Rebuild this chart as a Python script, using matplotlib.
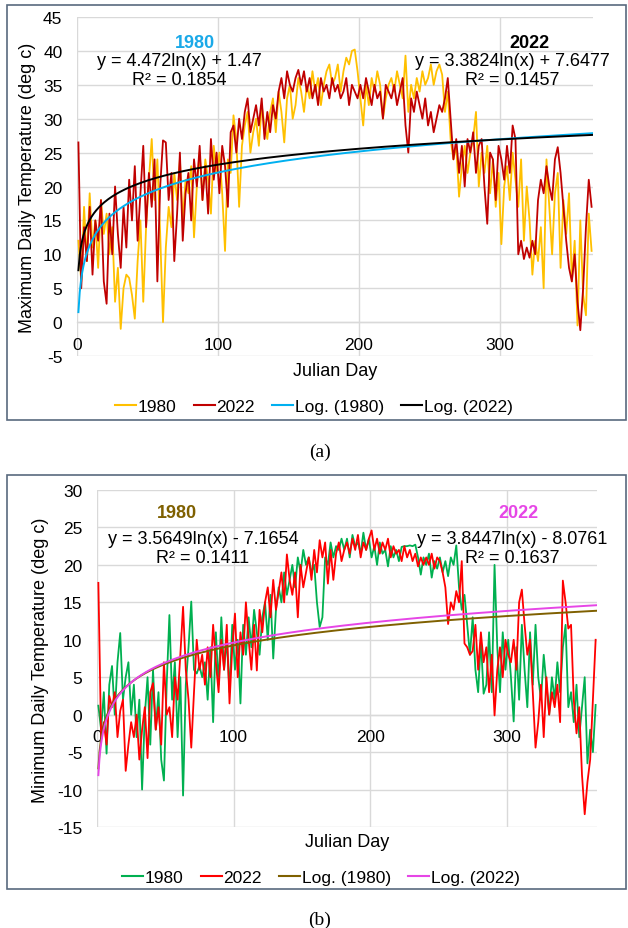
import numpy as np
import matplotlib
matplotlib.use("Agg")
import matplotlib.pyplot as plt
from matplotlib.lines import Line2D
from matplotlib.patches import Rectangle

# ---------------- data ----------------
days = np.arange(1, 366, 2)

max_1980 = [
    12, 6, 17, 9, 19, 11, 15, 8, 18, 13,
    16, 10, 14, 3, 8, -1, 5, 7, 6.5, 4,
    0.5, 9, 15, 3, 14, 21, 27, 18, 24, 13,
    0, 11, 17, 14, 22, 18, 24, 15, 21, 19,
    23, 12.5, 20, 25, 18, 24, 21, 16, 26, 22,
    25, 19, 10.5, 24, 22, 30.5, 27, 17, 26, 29,
    31, 25, 28, 30, 26, 32, 29, 27, 31, 33,
    28, 34, 31, 26.5, 33, 35, 30, 32, 36, 34,
    31, 35, 33, 37, 34, 36, 32, 35, 37, 38,
    35, 36, 38, 34, 37, 39, 38, 40, 40.2, 37,
    33, 29, 35, 32, 36, 34, 37, 35, 30, 33,
    35, 36, 34, 37, 35, 33, 39.3, 31, 35, 33,
    36, 34, 37, 35, 36, 38, 35, 37, 38, 36.5,
    31, 34, 27, 24, 26, 18.5, 23, 26, 22, 25,
    27, 31, 20, 25, 22, 26, 19, 24, 17, 22,
    11.5, 20, 23, 18, 25, 21, 17, 24, 12, 20,
    15, 7, 12, 9, 14, 5, 24, 17, 10, 19,
    22, 8, 18, 13, 19, 6, 12, -0.5, 15, 4,
    1, 16, 10.5,
]

max_2022 = [
    26.5, 5, 14, 9, 17, 7, 15, 12, 18, 6,
    2.7, 16, 10, 20, 13, 8, 17, 11, 21, 15,
    23, 12, 19, 26, 14, 22, 17, 24, 6, 20,
    26.8, 26.5, 18, 22, 9, 16, 25, 12, 19, 22,
    15, 24, 20, 26, 18, 23, 16, 27, 21, 25,
    19, 26, 23, 17, 28, 29, 25, 30, 27, 31,
    33, 28, 30, 32, 29, 33, 27, 31, 28, 32,
    30, 34, 36, 33, 37, 35, 34, 36, 37.2, 35,
    37, 34, 36, 33, 35, 32, 36, 34, 35, 33,
    36, 34, 35, 33, 34, 36, 32, 35, 34, 33,
    35, 33, 36, 34, 32, 35, 33, 34, 30, 35,
    34, 33, 35, 32, 34, 36, 29, 25, 33, 31,
    34, 32, 30, 33, 29, 31, 28, 30, 32, 31,
    33, 36, 30, 24, 27, 22, 26, 20, 27, 25,
    28, 22, 26, 27, 20, 14.5, 25, 24, 18, 26,
    24, 21, 26, 22, 29, 27, 10, 12, 9.3, 11,
    9.5, 12, 10, 18, 21, 19, 23, 20, 18, 24,
    25.8, 22, 17, 12, 8, 6, 10, 3, -1.2, 5,
    14, 21, 17,
]

min_1980 = [
    1.2, -2, 3, -5.2, 4, 6.5, 0, 7, 10.9, 2,
    5, 7, 0, 4, -3, 2, -10, 0, 5, -4,
    6, -2, 3, -6, -8.8, 4, 13.3, 2, 7, -3,
    5, -10.8, 4, 9, 15.1, 6, 5.5, 6.5, 5, 7,
    2, 9, -1, 11, 4, 13, 6, 10, 3, 12,
    6, 10, 1.5, 12, 8, 13, 9, 14, 11, 8,
    13, 15, 10, 16, 7.5, 14, 17, 15, 19, 16,
    18, 20, 17, 21, 19, 22, 20, 21, 19, 20,
    15, 11.7, 13, 21, 20, 23, 21, 22.5, 22, 23.5,
    22, 23.5, 21, 24, 22.5, 23, 21.5, 24.3, 22, 23.5,
    21, 22.5, 20, 23, 21.5, 22, 19.8, 22.5, 21, 22,
    20.5, 22.4, 22.5, 22.5, 22.6, 22.5, 22.7, 21, 18.7, 21,
    20, 21.5, 18.3, 20.5, 19.5, 21, 19, 20.5, 18.5, 21,
    20, 22.6, 17, 14, 16, 12, 8, 13, 6, 3,
    10, 2.8, 4, 11, 3, 20, 9, 3, 11, 6,
    10, 5, -0.9, 9, 2, 12, 6, 1, 11, 4,
    12, 5, 2, 8, 4, 0, 5, 2, 7, 3,
    9, 12, 1, 3, -1, 4, -3, 1, 5, -6.5,
    -2, -5, 1.3,
]

min_2022 = [
    17.6, -3, -1, -4, 2.5, 1, 3, -3, 0.5, 2,
    -7.5, -4, -1, -3, 0, -6, -2, 1, -5.8, 3,
    4.2, -2, 1, -4, 7, 0, 1, -3, 5, 2,
    8, 14.4, 6, 2, -4.4, 3, 10, 6, 8, 4,
    9, 5, 12, 7, 3, 10, 6, 12, 1.5, 9,
    13.5, 5, 11, 8, 15, 10, 6, 12, 5.9, 14,
    11, 15, 17, 13, 18, 14, 16.5, 19, 15, 21.4,
    18, 16, 19, 13, 20, 17, 19, 21, 18, 22,
    19, 23.3, 21, 23, 17.5, 22, 18, 21.5, 23, 20.5,
    22, 23, 21.5, 23.5, 22, 24, 21, 23, 22, 23.5,
    24.6, 22, 23.5, 21.5, 23, 22, 23.5, 21, 22.5, 21.5,
    22, 20.5, 22.5, 21, 22, 20.5, 21.5, 19.8, 21, 20,
    21, 20, 21.5, 19.5, 21, 20.5, 19, 17, 12.1, 15,
    14, 16.5, 15, 20.5, 9.5, 9, 8, 8.5, 12, 6,
    11, 7, 9, 3, 8, -0.1, 6, 9, 5, 10,
    8, 7, 10, 6, 15, 16.7, 12, 8, 10, 3,
    -4.4, -1, 4, -3, 5, 0, 3, 1, 4, -1,
    17.9, 15, 11.5, 12, 2, -2.5, 1, -8, -13.3, -9,
    -6, 2, 10,
]

# logarithmic trendline coefficients as printed on the chart: y = a*ln(x) + b
max_trend_1980 = [4.472, 1.47]
max_trend_2022 = [3.3824, 7.6477]
min_trend_1980 = [3.5649, -7.1654]
min_trend_2022 = [3.8447, -8.0761]

max_eq = ["y = 4.472ln(x) + 1.47\nR² = 0.1854", "y = 3.3824ln(x) + 7.6477\nR² = 0.1457"]
min_eq = ["y = 3.5649ln(x) - 7.1654\nR² = 0.1411", "y = 3.8447ln(x) - 8.0761\nR² = 0.1637"]
legend_labels = ["1980", "2022", "Log. (1980)", "Log. (2022)"]

# ---------------- figure ----------------
W, H, DPI = 628, 929, 100
plt.rcParams['font.family'] = ['Liberation Sans', 'DejaVu Sans']
plt.rcParams['axes.unicode_minus'] = False
fig = plt.figure(figsize=(W / DPI, H / DPI), dpi=DPI)
fig.patch.set_facecolor('white')


def fx(x):
    return x / W


def fy(y):
    return 1 - y / H


GRID = '#D9D9D9'
TICK_FS = 12.5
TITLE_FS = 13
ANN_FS = 13
LEG_FS = 12.5
DATA_LW = 1.3
TREND_LW = 1.4


def style_axis(ax, ylim, yticks):
    ax.set_xlim(0, 366)
    ax.set_ylim(*ylim)
    ax.set_xticks([0, 100, 200, 300])
    ax.set_yticks(yticks)
    ax.grid(True, color=GRID, lw=1.0)
    ax.set_axisbelow(True)
    for s in ['top', 'right', 'left']:
        ax.spines[s].set_visible(False)
    ax.spines['bottom'].set_position(('data', 0))
    ax.spines['bottom'].set_color(GRID)
    ax.spines['bottom'].set_linewidth(1.0)
    ax.tick_params(axis='both', length=0, labelsize=TICK_FS, colors='#000000')
    ax.tick_params(axis='x', pad=10.5)
    ax.tick_params(axis='y', pad=10.5)
    ax.patch.set_alpha(0)


xt = np.linspace(1, 366, 400)

# ---- panel (a) ----
ax1 = fig.add_axes([fx(77), fy(357), (593 - 77) / W, (357 - 18) / H])
style_axis(ax1, (-5, 45), np.arange(-5, 46, 5))
c_a = ['#FFC000', '#C00000', '#00B0F0', '#000000']
ax1.plot(days, max_1980, color=c_a[0], lw=DATA_LW, zorder=3)
ax1.plot(days, max_2022, color=c_a[1], lw=DATA_LW, zorder=4)
ax1.plot(xt, max_trend_1980[0] * np.log(xt) + max_trend_1980[1], color=c_a[2], lw=TREND_LW, zorder=5)
ax1.plot(xt, max_trend_2022[0] * np.log(xt) + max_trend_2022[1], color=c_a[3], lw=TREND_LW, zorder=6)

fig.text(fx(28), fy(188), "Maximum Daily Temperature (deg c)", rotation=90,
         ha='center', va='center', fontsize=TITLE_FS)
fig.text(fx(335), fy(371), "Julian Day", ha='center', va='center', fontsize=TITLE_FS)
fig.text(fx(195), fy(43), "1980", ha='center', va='center', fontsize=ANN_FS,
         fontweight='bold', color='#1AA9E8')
fig.text(fx(179), fy(71), max_eq[0], ha='center', va='center', fontsize=ANN_FS,
         multialignment='center', linespacing=1.2)
fig.text(fx(529), fy(43), "2022", ha='center', va='center', fontsize=ANN_FS,
         fontweight='bold', color='#000000')
fig.text(fx(512), fy(71), max_eq[1], ha='center', va='center', fontsize=ANN_FS,
         multialignment='center', linespacing=1.2)

h_a = [Line2D([], [], color=c, lw=1.5) for c in c_a]
fig.legend(h_a, legend_labels, loc='center', bbox_to_anchor=(fx(314), fy(407)),
           ncol=4, frameon=False, fontsize=LEG_FS, handlelength=1.2,
           handletextpad=0.1, columnspacing=1.0, borderpad=0, borderaxespad=0)

fig.add_artist(Rectangle((fx(7), fy(421)), (626 - 7) / W, (421 - 6) / H,
                         transform=fig.transFigure, fill=False,
                         edgecolor='#59697E', lw=1.2))
fig.text(fx(320), fy(452), "(a)", ha='center', va='center', fontsize=14,
         family=['Liberation Serif', 'DejaVu Serif'])

# ---- panel (b) ----
ax2 = fig.add_axes([fx(97), fy(828), (597 - 97) / W, (828 - 491) / H])
style_axis(ax2, (-15, 30), np.arange(-15, 31, 5))
c_b = ['#00B050', '#FF0000', '#7F6000', '#E646E6']
ax2.plot(days, min_1980, color=c_b[0], lw=DATA_LW, zorder=3)
ax2.plot(days, min_2022, color=c_b[1], lw=DATA_LW, zorder=4)
ax2.plot(xt, min_trend_1980[0] * np.log(xt) + min_trend_1980[1], color=c_b[2], lw=TREND_LW, zorder=5)
ax2.plot(xt, min_trend_2022[0] * np.log(xt) + min_trend_2022[1], color=c_b[3], lw=TREND_LW, zorder=6)

fig.text(fx(41), fy(660), "Minimum Daily Temperature (deg c)", rotation=90,
         ha='center', va='center', fontsize=TITLE_FS)
fig.text(fx(347), fy(843), "Julian Day", ha='center', va='center', fontsize=TITLE_FS)
fig.text(fx(177), fy(514), "1980", ha='center', va='center', fontsize=ANN_FS,
         fontweight='bold', color='#7F6000')
fig.text(fx(203), fy(549), min_eq[0], ha='center', va='center', fontsize=ANN_FS,
         multialignment='center', linespacing=1.15)
fig.text(fx(518), fy(514), "2022", ha='center', va='center', fontsize=ANN_FS,
         fontweight='bold', color='#E646E6')
fig.text(fx(512), fy(549), min_eq[1], ha='center', va='center', fontsize=ANN_FS,
         multialignment='center', linespacing=1.15)

h_b = [Line2D([], [], color=c, lw=1.5) for c in c_b]
fig.legend(h_b, legend_labels, loc='center', bbox_to_anchor=(fx(321), fy(878)),
           ncol=4, frameon=False, fontsize=LEG_FS, handlelength=1.2,
           handletextpad=0.1, columnspacing=1.0, borderpad=0, borderaxespad=0)

fig.add_artist(Rectangle((fx(7), fy(890)), (626 - 7) / W, (890 - 476) / H,
                         transform=fig.transFigure, fill=False,
                         edgecolor='#59697E', lw=1.2))
fig.text(fx(320), fy(920), "(b)", ha='center', va='center', fontsize=14,
         family=['Liberation Serif', 'DejaVu Serif'])

fig.savefig("out.png", dpi=DPI, facecolor='white')
